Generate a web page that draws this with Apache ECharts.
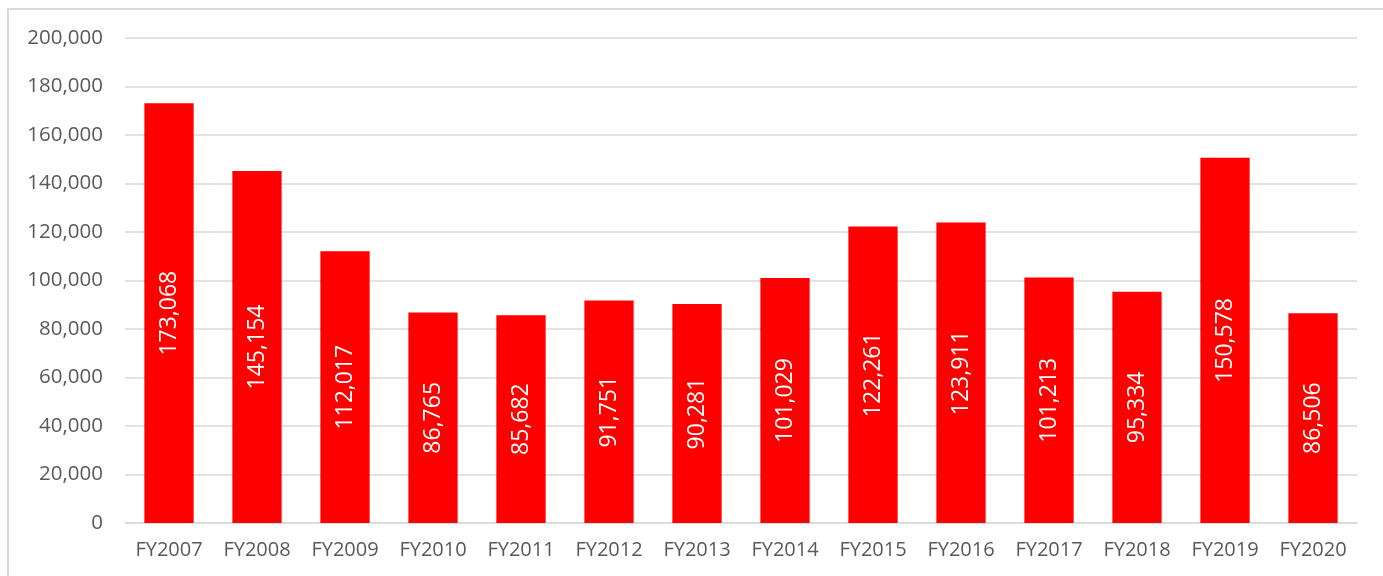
<!DOCTYPE html>
<html>
<head>
<meta charset="utf-8">
<script src="https://cdn.jsdelivr.net/npm/echarts@6/dist/echarts.min.js"></script>
<style>
  html, body { margin: 0; padding: 0; background: #fff; }
  #frame { position: absolute; left: 7px; top: 8px; width: 1380px; height: 580px; border: 2px solid #d9d9d9; box-sizing: border-box; }
  #main { position: absolute; left: 0; top: 0; width: 1383px; height: 576px; }
</style>
</head>
<body>
<div id="frame"></div>
<div id="main"></div>
<script>
// 年度
var years = ['FY2007', 'FY2008', 'FY2009', 'FY2010', 'FY2011', 'FY2012', 'FY2013',
             'FY2014', 'FY2015', 'FY2016', 'FY2017', 'FY2018', 'FY2019', 'FY2020'];
// 数值
var values = [173068, 145154, 112017, 86765, 85682, 91751, 90281,
              101029, 122261, 123911, 101213, 95334, 150578, 86506];

var fontFam = '"Open Sans", "Liberation Sans", sans-serif';

function fmt(v) {
    return v.toLocaleString('en-US');
}

var myChart = echarts.init(document.getElementById('main'));
var option = {
    animation: false,
    grid: { left: 125, right: 26, top: 38, bottom: 53 },
    xAxis: {
        type: 'category',
        data: years,
        axisTick: { show: false },
        axisLine: { lineStyle: { color: '#d9d9d9', width: 1.5 } },
        axisLabel: { interval: 0, color: '#595959', fontSize: 20, fontFamily: fontFam, margin: 17 }
    },
    yAxis: {
        type: 'value',
        min: 0,
        max: 200000,
        interval: 20000,
        axisLine: { show: false },
        axisTick: { show: false },
        splitLine: { lineStyle: { color: '#d9d9d9', width: 1.5 } },
        axisLabel: {
            color: '#595959', fontSize: 20.5, fontFamily: fontFam, margin: 22,
            formatter: function (v) { return fmt(v); }
        }
    },
    series: [{
        type: 'bar',
        data: values,
        barWidth: '56%',
        itemStyle: { color: '#ff0000' },
        label: {
            show: true,
            position: 'inside',
            rotate: 90,
            color: '#fff',
            fontSize: 23,
            fontFamily: fontFam,
            formatter: function (p) { return fmt(p.value); }
        }
    }]
};
myChart.setOption(option);
</script>
</body>
</html>
